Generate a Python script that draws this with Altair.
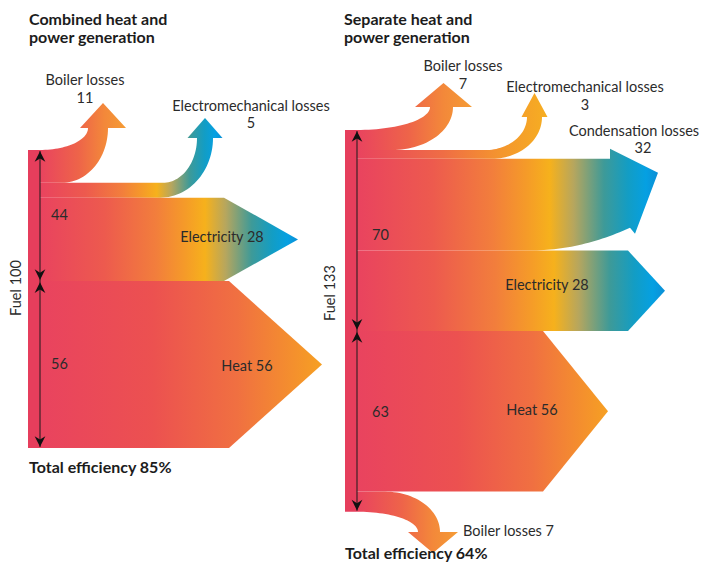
import numpy as np
import pandas as pd
import altair as alt

# ---------------- data ----------------
panel_titles = ["Combined heat and\npower generation", "Separate heat and\npower generation"]
fuel_inputs = [100, 133]
chp_names = ["Boiler losses", "Electromechanical losses", "Electricity", "Heat"]
chp_values = [11, 5, 28, 56]
chp_groups = [44, 56]
sep_names = ["Boiler losses", "Electromechanical losses", "Condensation losses",
             "Electricity", "Heat", "Boiler losses"]
sep_values = [7, 3, 32, 28, 56, 7]
sep_groups = [70, 63]
efficiencies = [85, 64]

# ---------------- layout / styles ----------------
M = 8            # page margin -> chart coordinates = page coordinates - M
W, H = 695, 556
FONT = "Lato"
TXT = "#2b2b2b"
COL = "#E63E5C"

P1 = dict(cl=28, cr=40, top=150, unit=2.98)
P2 = dict(cl=345, cr=357, top=130, unit=2.87)


def bands(panel, values):
    out, a = [], panel["top"]
    for v in values:
        t = v * panel["unit"]
        out.append((a, t))
        a += t
    return out


def up_arrow(x0, a, t, x_is, x_os, xi, w, yb, hw, hh, shift=0, n=30):
    pts = [(x0, a)]
    rx, ry = xi - x_is, a - yb
    for th in np.linspace(0, np.pi / 2, n):
        pts.append((x_is + rx * np.sin(th), yb + ry * np.cos(th)))
    cx = xi + w / 2 + shift
    pts += [(cx - hw / 2, yb), (cx, yb - hh), (cx + hw / 2, yb)]
    rx, ry = xi + w - x_os, a + t - yb
    for th in np.linspace(np.pi / 2, 0, n):
        pts.append((x_os + rx * np.sin(th), yb + ry * np.cos(th)))
    pts.append((x0, a + t))
    return pts


def down_arrow(x0, a, t, x_is, x_os, xi, w, yb, hw, hh, shift=0, n=30):
    pts = [(x0, a)]
    rx, ry = xi + w - x_os, yb - a
    for th in np.linspace(0, np.pi / 2, n):
        pts.append((x_os + rx * np.sin(th), yb - ry * np.cos(th)))
    cx = xi + w / 2 + shift
    pts += [(cx + hw / 2, yb), (cx, yb + hh), (cx - hw / 2, yb)]
    rx, ry = xi - x_is, yb - (a + t)
    for th in np.linspace(np.pi / 2, 0, n):
        pts.append((x_is + rx * np.sin(th), yb - ry * np.cos(th)))
    pts.append((x0, a + t))
    return pts


def straight_arrow(x0, a, t, hx, tip):
    return [(x0, a), (hx, a), (tip, a + t / 2), (hx, a + t), (x0, a + t)]


def bent_arrow(x0, a, t, hx, cs, n=30):
    pts = [(x0, a), (hx, a), (hx, a - 10), (hx + 48, a + 14), (hx + 25, a + 75), (hx + 20, a + 69)]
    xe, ye, yf = hx + 20, a + 69, a + t
    for s in np.linspace(1, 0, n):
        pts.append((cs + (xe - cs) * s, yf - (yf - ye) * s ** 2))
    pts.append((x0, a + t))
    return pts


b1 = bands(P1, chp_values)
b2 = bands(P2, sep_values)
x01, x02 = P1["cr"], P2["cr"]

shapes = [
    ("chp_boiler", "loss", up_arrow(x01, *b1[0], x_is=x01, x_os=62, xi=88, w=20, yb=128, hw=46, hh=25, shift=5)),
    ("chp_em", "full", up_arrow(x01, *b1[1], x_is=163, x_os=160, xi=197, w=16, yb=138, hw=35, hh=20)),
    ("chp_elec", "full", straight_arrow(x01, *b1[2], hx=224, tip=298)),
    ("chp_heat", "heat", straight_arrow(x01, *b1[3], hx=229, tip=322)),
    ("sep_boiler", "loss", up_arrow(x02, *b2[0], x_is=x02, x_os=392, xi=430, w=23, yb=107, hw=57, hh=24, shift=2)),
    ("sep_em", "lossy", up_arrow(x02, *b2[1], x_is=485, x_os=492, xi=527, w=15, yb=117, hw=26, hh=24)),
    ("sep_cond", "full", bent_arrow(x02, *b2[2], hx=610, cs=530)),
    ("sep_elec", "full", straight_arrow(x02, *b2[3], hx=628, tip=665)),
    ("sep_heat", "heat", straight_arrow(x02, *b2[4], hx=543, tip=608)),
    ("sep_boiler2", "loss", down_arrow(x02, *b2[5], x_is=x02, x_os=385, xi=418, w=22, yb=532, hw=50, hh=21, shift=4)),
]

rows = []
for name, kind, pts in shapes:
    for i, (x, y) in enumerate(pts):
        rows.append(dict(shape=name, kind=kind, i=i, x=x - M, y=y - M))
poly = pd.DataFrame(rows)

GRADS = {
    "full": [(0, "#E9435F"), (0.25, "#ED5A4E"), (0.45, "#F27E3C"), (0.56, "#F59A29"), (0.64, "#F6B11C"),
             (0.72, "#B6A65E"), (0.82, "#3E9A98"), (0.9, "#139DC4"), (0.96, "#05A0E2"), (1, "#0C8FD6")],
    "heat": [(0, "#E9435F"), (0.4, "#EC5150"), (0.7, "#F07041"), (1, "#F6A023")],
    "loss": [(0, "#E9435F"), (0.45, "#EE6449"), (0.75, "#F3883A"), (1, "#F59C35")],
    "lossy": [(0, "#E9435F"), (0.45, "#EF6D45"), (0.75, "#F4952E"), (1, "#F6AE22")],
}


def grad(stops):
    return alt.Gradient(gradient="linear", x1=0, y1=0, x2=1, y2=0,
                        stops=[alt.GradientStop(color=c, offset=o) for o, c in stops])


X = alt.X("x:Q", scale=alt.Scale(domain=[0, W], nice=False, zero=False), axis=None)
Y = alt.Y("y:Q", scale=alt.Scale(domain=[0, H], nice=False, zero=False, reverse=True), axis=None)

layers = []
for kind, stops in GRADS.items():
    layers.append(
        alt.Chart(poly[poly.kind == kind]).mark_line(fill=grad(stops), strokeOpacity=0, strokeWidth=0)
        .encode(x=X, y=Y, order="i:Q", detail="shape:N")
    )

# fuel columns
cols = pd.DataFrame([
    dict(x=P1["cl"] - M, x2=P1["cr"] - M, y=P1["top"] - M, y2=P1["top"] + fuel_inputs[0] * P1["unit"] - M),
    dict(x=P2["cl"] - M, x2=P2["cr"] - M, y=P2["top"] - M, y2=P2["top"] + fuel_inputs[1] * P2["unit"] - M),
])
layers.append(alt.Chart(cols).mark_rect(color=COL).encode(x=X, x2="x2:Q", y=Y, y2="y2:Q"))

# black measuring arrows
rules, ups, downs = [], [], []
for P, fuel, groups in [(P1, fuel_inputs[0], chp_groups), (P2, fuel_inputs[1], sep_groups)]:
    top = P["top"]
    split = top + groups[0] * P["unit"]
    bot = top + fuel * P["unit"]
    x = P["cr"] - M
    rules.append(dict(x=x, y=top + 1 - M, y2=bot - 1 - M))
    r = 5.5
    ups += [dict(x=x, y=top + 1 + r - M), dict(x=x, y=split + 1 + r - M)]
    downs += [dict(x=x, y=split - 1 - r - M), dict(x=x, y=bot - 1 - r - M)]
layers.append(alt.Chart(pd.DataFrame(rules)).mark_rule(color="#1a1a1a", strokeWidth=1)
              .encode(x=X, y=Y, y2="y2:Q"))
layers.append(alt.Chart(pd.DataFrame(ups)).mark_point(shape="M0,-1L1,1L0,0.35L-1,1Z", filled=True,
              color="#111111", opacity=1, size=115, strokeWidth=0).encode(x=X, y=Y))
layers.append(alt.Chart(pd.DataFrame(downs)).mark_point(shape="M0,1L1,-1L0,-0.35L-1,-1Z", filled=True,
              color="#111111", opacity=1, size=115, strokeWidth=0).encode(x=X, y=Y))

# ---------------- texts ----------------
def mid(b):
    return b[0] + b[1] / 2


bold_left = []
for title, xl in zip(panel_titles, [29, 344]):
    l1, l2 = title.split("\n")
    bold_left += [dict(x=xl, y=20, text=l1), dict(x=xl, y=38, text=l2)]
bold_left += [dict(x=29, y=468, text=f"Total efficiency {efficiencies[0]}%"),
              dict(x=345, y=554, text=f"Total efficiency {efficiencies[1]}%")]

centered = [
    dict(x=85, y=81, text=chp_names[0]), dict(x=85, y=99, text=str(chp_values[0])),
    dict(x=251, y=107, text=chp_names[1]), dict(x=251, y=124, text=str(chp_values[1])),
    dict(x=222, y=mid(b1[2]) - 1, text=f"{chp_names[2]} {chp_values[2]}"),
    dict(x=247, y=mid(b1[3]) + 2, text=f"{chp_names[3]} {chp_values[3]}"),
    dict(x=463, y=67, text=sep_names[0]), dict(x=463, y=85, text=str(sep_values[0])),
    dict(x=585, y=88, text=sep_names[1]), dict(x=585, y=106, text=str(sep_values[1])),
    dict(x=634, y=132, text=sep_names[2]), dict(x=643, y=149, text=str(sep_values[2])),
    dict(x=547, y=mid(b2[3]) - 5, text=f"{sep_names[3]} {sep_values[3]}"),
    dict(x=532, y=mid(b2[4]), text=f"{sep_names[4]} {sep_values[4]}"),
]
left = [
    dict(x=51, y=P1["top"] + chp_groups[0] * P1["unit"] / 2, text=str(chp_groups[0])),
    dict(x=51, y=P1["top"] + (chp_groups[0] + chp_groups[1] / 2) * P1["unit"], text=str(chp_groups[1])),
    dict(x=372, y=P2["top"] + sep_groups[0] * P2["unit"] / 2 + 6, text=str(sep_groups[0])),
    dict(x=372, y=P2["top"] + (sep_groups[0] + sep_groups[1] / 2) * P2["unit"] - 8, text=str(sep_groups[1])),
    dict(x=463, y=532, text=f"{sep_names[5]} {sep_values[5]}"),
]
rotated = [dict(x=17, y=288, text=f"Fuel {fuel_inputs[0]}"),
           dict(x=331, y=293, text=f"Fuel {fuel_inputs[1]}")]


def tdf(items):
    d = pd.DataFrame(items)
    d["x"] = d["x"] - M
    d["y"] = d["y"] - M
    return d


layers.append(alt.Chart(tdf(bold_left)).mark_text(font=FONT, fontSize=16, fontWeight="bold", align="left",
              baseline="middle", color="#1c1c1c").encode(x=X, y=Y, text="text:N"))
layers.append(alt.Chart(tdf(centered)).mark_text(font=FONT, fontSize=14.5, align="center",
              baseline="middle", color=TXT).encode(x=X, y=Y, text="text:N"))
layers.append(alt.Chart(tdf(left)).mark_text(font=FONT, fontSize=14.5, align="left",
              baseline="middle", color=TXT).encode(x=X, y=Y, text="text:N"))
layers.append(alt.Chart(tdf(rotated)).mark_text(font=FONT, fontSize=14.5, align="center", angle=270,
              baseline="middle", color=TXT).encode(x=X, y=Y, text="text:N"))

chart = alt.layer(*layers).properties(
    width=W, height=H, padding=0, autosize=alt.AutoSizeParams(type="none")
).configure_view(stroke=None)

chart.save("out.html", embed_options={"renderer": "svg", "actions": False})
